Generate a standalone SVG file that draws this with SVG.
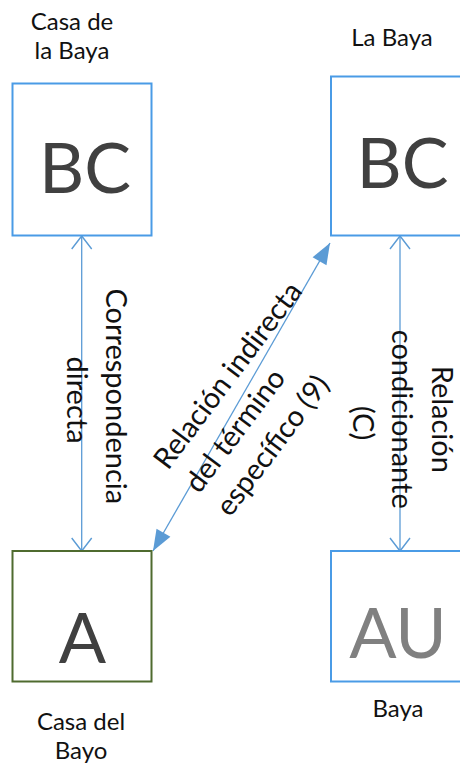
<svg xmlns="http://www.w3.org/2000/svg" width="460" height="767" viewBox="0 0 460 767">
  <style>
    .box { fill: #ffffff; stroke: #4a9be6; stroke-width: 2; }
    .box-green { fill: #ffffff; stroke: #4f6b2f; stroke-width: 2; }
    .label { font-family: Lato, "Liberation Sans", sans-serif; font-size: 24px; fill: #111111; text-anchor: middle; }
    .big { font-family: Lato, "Liberation Sans", sans-serif; font-size: 70px; fill: #404040; text-anchor: middle; }
    .big-grey { fill: #808080; }
    .rel { font-family: Lato, "Liberation Sans", sans-serif; font-size: 29px; fill: #111111; }
    .link { stroke: #5b9bd5; stroke-width: 1.3; fill: none; }
  </style>
  <defs>
    <marker id="open-arrow" markerUnits="userSpaceOnUse" orient="auto-start-reverse" viewBox="-20 -15 30 30" markerWidth="30" markerHeight="30" refX="0" refY="0" overflow="visible">
      <path d="M-13,-10 L0,0 L-13,10" fill="none" stroke="#5b9bd5" stroke-width="1.4"/>
    </marker>
    <marker id="solid-arrow" markerUnits="userSpaceOnUse" orient="auto-start-reverse" viewBox="-25 -15 30 30" markerWidth="30" markerHeight="30" refX="0" refY="0" overflow="visible">
      <path d="M-21,-8 L0,0 L-21,8 Z" fill="#5b9bd5"/>
    </marker>
  </defs>

  <!-- connectors -->
  <g id="connectors">
    <line class="link" x1="81.7" y1="236" x2="81.7" y2="551" marker-start="url(#open-arrow)" marker-end="url(#open-arrow)"/>
    <line class="link" x1="400" y1="236" x2="400" y2="551" marker-start="url(#open-arrow)" marker-end="url(#open-arrow)"/>
    <line class="link" x1="153" y1="551" x2="330" y2="243" marker-start="url(#solid-arrow)" marker-end="url(#solid-arrow)"/>
  </g>

  <!-- relation labels -->
  <g id="label-correspondencia">
    <text class="rel" text-anchor="middle" transform="translate(86.5,400) rotate(90)">
      <tspan x="0" y="-19">Correspondencia</tspan>
      <tspan x="0" y="20">directa</tspan>
    </text>
  </g>
  <g id="label-indirecta">
    <text class="rel" transform="translate(168,471) rotate(-53)">
      <tspan x="0" y="0">Relación indirecta</tspan>
      <tspan x="0" y="39">del término</tspan>
      <tspan x="0" y="78">específico (9)</tspan>
    </text>
  </g>
  <g id="label-condicionante">
    <text class="rel" text-anchor="middle" transform="translate(392,423) rotate(90)">
      <tspan x="0" y="-40">Relación</tspan>
      <tspan x="0" y="0">condicionante</tspan>
      <tspan x="0" y="39">(C)</tspan>
    </text>
  </g>

  <!-- nodes -->
  <g id="node-casa-de-la-baya">
    <rect class="box" x="12.5" y="83.5" width="139" height="152"/>
    <text class="big" x="85" y="193">BC</text>
    <text class="label" x="72" y="30">Casa de</text>
    <text class="label" x="72" y="58.5">la Baya</text>
  </g>
  <g id="node-la-baya">
    <rect class="box" x="331" y="76.5" width="140" height="159"/>
    <text class="big" x="402.5" y="188">BC</text>
    <text class="label" x="392" y="46">La Baya</text>
  </g>
  <g id="node-casa-del-bayo">
    <rect class="box-green" x="12.5" y="551" width="139" height="130.5"/>
    <text class="big" x="82.5" y="663">A</text>
    <text class="label" x="81" y="730">Casa del</text>
    <text class="label" x="81" y="759">Bayo</text>
  </g>
  <g id="node-baya">
    <rect class="box" x="331" y="551" width="140" height="130.5"/>
    <text class="big big-grey" x="398" y="658">AU</text>
    <text class="label" x="398" y="717">Baya</text>
  </g>
</svg>
